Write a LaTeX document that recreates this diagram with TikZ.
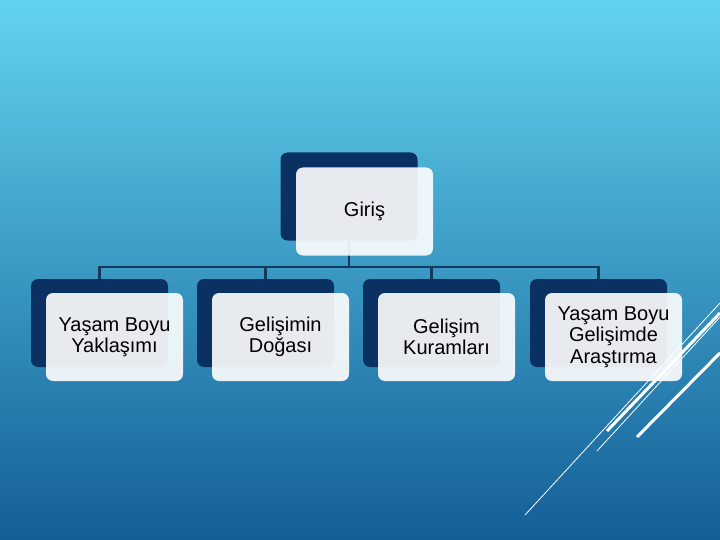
\documentclass[tikz,border=0pt]{standalone}
\usepackage{fontspec}
\setmainfont{Liberation Sans}
\definecolor{navy}{HTML}{0B3062}
\definecolor{connc}{HTML}{143A5E}
\definecolor{bgtop}{HTML}{62D4EF}
\definecolor{bgbot}{HTML}{135E97}
\tikzset{
  darkbox/.style={fill=navy, rounded corners=7pt, minimum width=137pt, minimum height=88pt, inner sep=0pt},
  lightbox/.style={fill=white, fill opacity=0.9, text opacity=1, rounded corners=7pt, minimum width=137pt, minimum height=88pt, inner sep=0pt, align=center, font=\fontsize{20}{21.5}\selectfont},
  conn/.style={draw=connc, line width=2.1pt},
  thinline/.style={draw=white, line width=0.8pt},
  thickline/.style={draw=white, line width=3pt}
}
\begin{document}
\begin{tikzpicture}[x=1pt,y=-1pt]
\useasboundingbox (0,0) rectangle (720,540);
\shade[top color=bgtop, bottom color=bgbot] (0,0) rectangle (720,540);
% dark back boxes
\node[darkbox] (d0) at (349,196.5) {};
\node[darkbox] (d1) at (99.5,323) {};
\node[darkbox] (d2) at (265.5,323) {};
\node[darkbox] (d3) at (431.5,323) {};
\node[darkbox] (d4) at (598.5,323) {};
% connectors
\coordinate (bus) at (349,267);
\draw[conn] (d0.south) -- (bus);
\draw[conn] (d1.north) |- (bus);
\draw[conn] (d2.north) |- (bus);
\draw[conn] (d3.north) |- (bus);
\draw[conn] (d4.north) |- (bus);
% light front boxes
\node[lightbox] (l0) at (364.5,211.5) {Giriş};
\node[lightbox] (l1) at (114.5,337) {Yaşam Boyu\\Yaklaşımı};
\node[lightbox] (l2) at (280.5,337) {Gelişimin\\Doğası};
\node[lightbox] (l3) at (446.5,337) {Gelişim\\Kuramları};
\node[lightbox] (l4) at (613.5,337) {Yaşam Boyu\\Gelişimde\\Araştırma};
% decorative lines
\draw[thinline] (525,515) -- (720,303);
\draw[thinline] (597,451) -- (720,317);
\draw[thickline] (607,431) -- (720,313);
\draw[thickline] (637,437) -- (720,353);
\end{tikzpicture}
\end{document}
